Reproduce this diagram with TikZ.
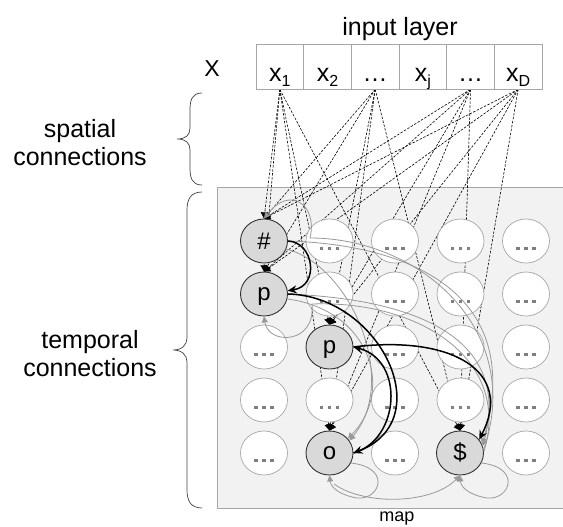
\documentclass[tikz,border=0pt]{standalone}
\usepackage{fontspec}
\setmainfont{Liberation Sans}
\usetikzlibrary{arrows.meta,shapes.geometric}
\definecolor{mapfill}{HTML}{F2F2F2}
\definecolor{lgray}{HTML}{A6A6A6}
\definecolor{cgray}{HTML}{999999}
\definecolor{actfill}{HTML}{D9D9D9}
\definecolor{dkgray}{HTML}{333333}
\definecolor{dotgray}{HTML}{7F7F7F}
\definecolor{brgray}{HTML}{404040}
\pgfdeclarelayer{bg}\pgfdeclarelayer{dash}\pgfdeclarelayer{fg}
\pgfsetlayers{bg,dash,main,fg}
\newcommand{\sbs}[1]{\raisebox{-4.5pt}{\fontsize{16pt}{16pt}\selectfont #1}}
\newcommand{\mdots}{\raisebox{-9pt}[0pt][0pt]{\color{dotgray}\rule{3.5pt}{3.5pt}\hspace{4.5pt}\rule{3.5pt}{3.5pt}\hspace{4.5pt}\rule{3.5pt}{3.5pt}}}
\tikzset{
  cell/.style={ellipse, draw=lgray, fill=white, line width=0.7pt, minimum width=47pt, minimum height=44pt, inner sep=0pt},
  act/.style={cell, draw=dkgray, line width=0.9pt, fill=actfill, text height=12pt, text depth=0pt, font=\fontsize{24pt}{24pt}\selectfont},
  inbox/.style={rectangle, draw=lgray, fill=white, line width=0.7pt, minimum width=47.67pt, minimum height=45pt, inner sep=0pt},
  lbl/.style={anchor=base, inner sep=0pt, font=\fontsize{25pt}{25pt}\selectfont},
  big/.style={font=\fontsize{25pt}{25pt}\selectfont, align=center, inner sep=0pt},
  dsh/.style={black, line width=0.6pt, dash pattern=on 2.5pt off 1.5pt, -{Triangle[length=6pt,width=8pt]}},
  blk/.style={black, line width=1.5pt, -{Stealth[length=9pt,width=8pt]}},
  gry/.style={cgray, line width=0.8pt, -{Triangle[length=6pt,width=6pt]}},
  brace/.style={brgray, line width=0.7pt}
}
\begin{document}
\begin{tikzpicture}[x=1pt,y=-1pt]
\useasboundingbox (0,0) rectangle (563,527);
\clip (0,0) rectangle (563,527);

% titles
\node[big] (title) at (400,29) {input layer};
\node[font=\fontsize{23pt}{23pt}\selectfont, inner sep=0pt] (X) at (212,69) {X};

% input layer
\foreach \i in {1,...,6}
  \node[inbox] (in\i) at ({256+47.667*(\i-0.5)},66.5) {};
\node[lbl] (lx1) at ([yshift=-15.5pt]in1.center) {x\sbs{1}};
\node[lbl] (lx2) at ([yshift=-15.5pt]in2.center) {x\sbs{2}};
\node[lbl] (lx3) at ([yshift=-15.5pt]in3.center) {…};
\node[lbl] (lx4) at ([yshift=-15.5pt]in4.center) {x\sbs{j}};
\node[lbl] (lx5) at ([yshift=-15.5pt]in5.center) {…};
\node[lbl] (lx6) at ([yshift=-15.5pt]in6.center) {x\sbs{D}};

% braces and side labels
\draw[brace] (202,93) .. controls (192,93) and (190,100) .. (190,110) -- (190,128)
  .. controls (190,135) and (186,139) .. (177,139)
  .. controls (186,139) and (190,143) .. (190,150) -- (190,168)
  .. controls (190,178) and (192,185) .. (202,185);
\draw[brace] (202,192) .. controls (191,192) and (187,199) .. (187,210) -- (187,338)
  .. controls (187,345) and (182,350) .. (173,350)
  .. controls (182,350) and (187,355) .. (187,362) -- (187,490)
  .. controls (187,501) and (191,508) .. (202,508);
\node[big] (spatial) at (80,143) {spatial\\[3pt]connections};
\node[big] (temporal) at (90,354) {temporal\\[3pt]connections};

% map background
\begin{pgfonlayer}{bg}
\draw[draw=lgray, fill=mapfill, line width=0.8pt] (217,187) rectangle (600,508);
\end{pgfonlayer}
\node[font=\fontsize{18pt}{18pt}\selectfont, inner sep=0pt] (maplbl) at (397,519) {map};

% grid of units
\foreach \c/\r in {2/1,3/1,4/1,5/1, 2/2,3/2,4/2,5/2, 1/3,3/3,4/3,5/3, 1/4,2/4,3/4,4/4,5/4, 1/5,3/5,5/5}
  \node[cell] (c\c\r) at ({264+65.5*(\c-1)},{241+53*(\r-1)}) {\mdots};
\node[act] (hash) at (264,241) {\raisebox{-2pt}{\#}};
\node[act] (p1) at (264,294) {p};
\node[act] (p2) at (329.5,347) {p};
\node[act] (o) at (329.5,453) {o};
\node[act] (dol) at (460,453) {\raisebox{-1pt}{\$}};

% spatial connections (dashed)
\begin{pgfonlayer}{dash}
\foreach \s in {in1,in3,in5,in6}
  \foreach \t in {hash,p1,p2,o,dol}
    \draw[dsh] (\s.south) -- (\t.north);
\end{pgfonlayer}

% temporal connections
\begin{pgfonlayer}{fg}
% gray
\draw[gry] (dol.8) .. controls (525,330) and (420,238) .. (310,238)
  .. controls (318,205) and (290,185) .. (hash.north);
\draw[gry] (dol.3) .. controls (512,360) and (420,300) .. (312,304)
  .. controls (316,345) and (268,345) .. (p1.south);
\draw[gry] (hash.east) .. controls (420,245) and (525,300) .. (dol.22);
\draw[gry] (p1.east) .. controls (430,300) and (510,345) .. (dol.17);
\draw[gry] (hash.-20) .. controls (350,265) and (400,380) .. (o.32);
\draw[gry] (p1.-12) .. controls (370,310) and (395,390) .. (o.38);
\draw[gry] (o.-25) .. controls (395,468) and (378,505) .. (352,497)
  .. controls (340,494) and (331,488) .. (o.south);
\draw[gry] (dol.-25) .. controls (525,468) and (508,505) .. (482,497)
  .. controls (470,494) and (461,488) .. (dol.south);
\draw[gry] (334,484) .. controls (365,506) and (432,504) .. (dol.south);
% black
\draw[blk] (hash.east) .. controls (314,242) and (320,286) .. (p1.8);
\draw[blk] (p1.east) .. controls (380,296) and (440,420) .. (o.east);
\draw[blk] (o.east) .. controls (400,440) and (405,360) .. (p2.east);
\draw[blk] (p2.east) .. controls (450,335) and (515,370) .. (dol.35);
\end{pgfonlayer}
\end{tikzpicture}
\end{document}
